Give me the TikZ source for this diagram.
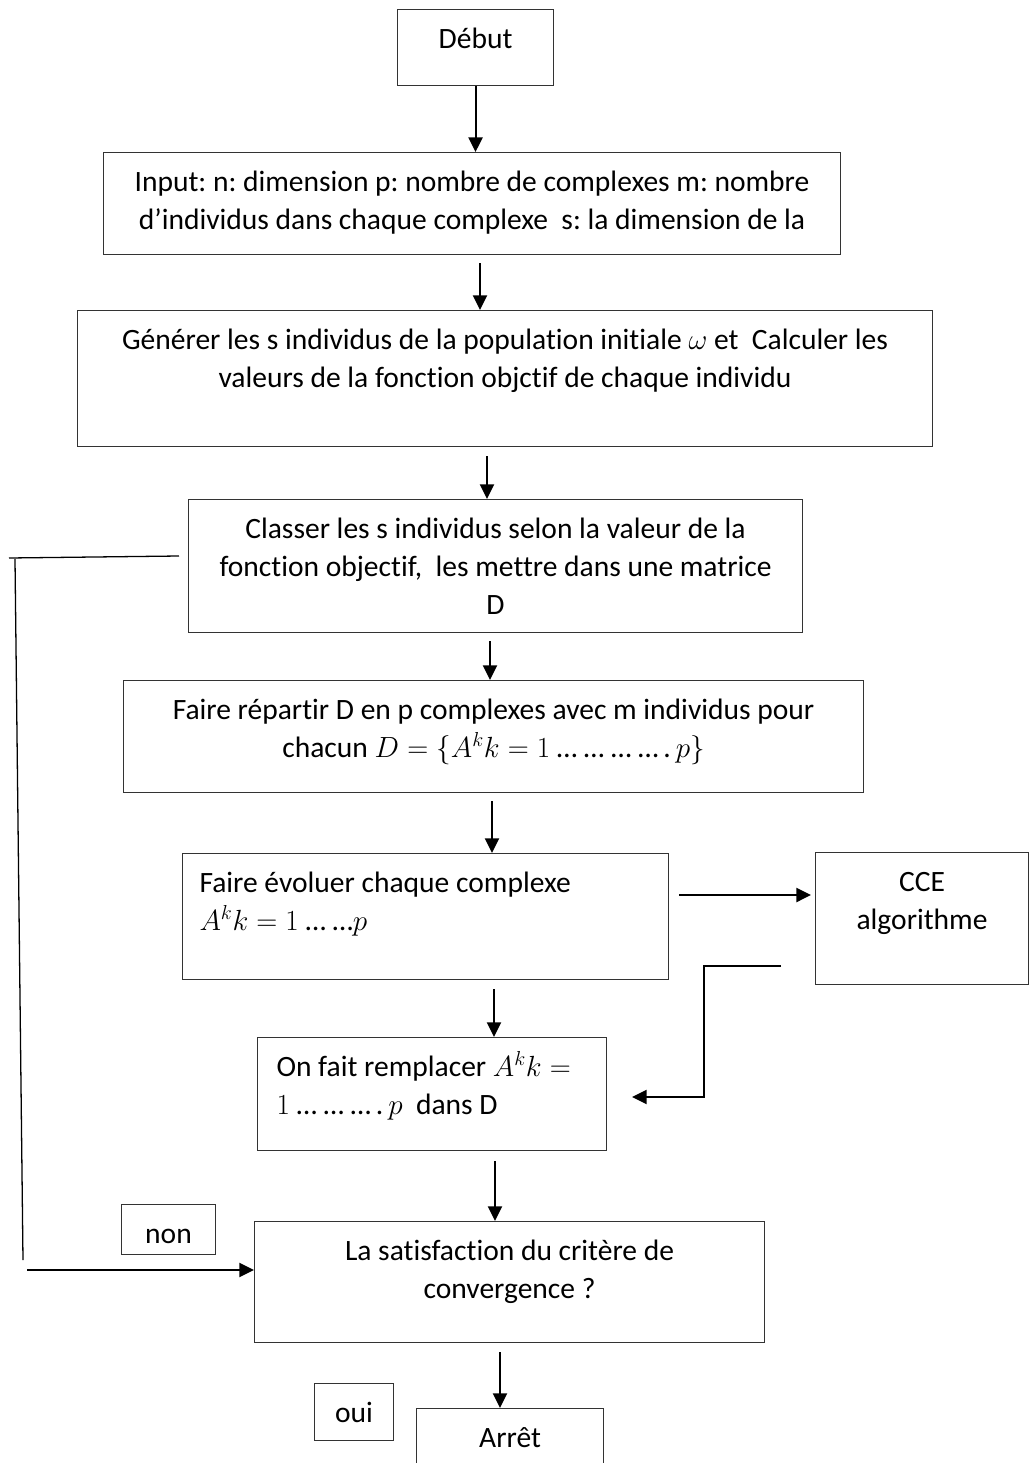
\documentclass[tikz,border=0pt]{standalone}
\usepackage{fontspec}
\setmainfont{Carlito}[Ligatures=NoCommon]
\usetikzlibrary{arrows.meta}
\newlength\pxu
\setlength\pxu{0.03cm}
\newcommand\boxcontent[4]{\parbox[t][#2\pxu][t]{#1\pxu}{\fontsize{25.2pt}{32.6pt}\selectfont\frenchspacing\vspace*{12\pxu}#3\strut #4\par}}
\tikzset{
  box/.style={draw=black!80, line width=0.9pt, inner sep=0pt, anchor=north west},
  arr/.style={line width=1.7pt, -{Triangle[length=12.5pt,width=12pt]}},
  thinline/.style={line width=1.1pt}
}
\begin{document}
\begin{tikzpicture}[x=0.03cm, y=-0.03cm]
\useasboundingbox (0,0) rectangle (1029,1463);
\fill[white] (0,0) rectangle (1029,1463);
% boxes
\node[box] (debut) at (397,9) {\boxcontent{156}{76}{\centering}{Début}};
\node[box] (input) at (103,152) {\boxcontent{737}{102}{\centering}{Input: n: dimension p: nombre de complexes m: nombre\\ d’individus dans chaque complexe\ \ s: la dimension de la}};
\node[box] (gen) at (77,310) {\boxcontent{855}{136}{\centering}{Générer les s individus de la population initiale $\omega$ et\ \ Calculer les\\ valeurs de la fonction objctif de chaque individu}};
\node[box] (classer) at (188,499) {\boxcontent{614}{133}{\centering}{Classer les s individus selon la valeur de la\\ fonction objectif,\ \ les mettre dans une matrice\\ D}};
\node[box] (repart) at (123,680) {\boxcontent{740}{112}{\centering}{Faire répartir D en p complexes avec m individus pour\\ chacun $D=\{A^k k=1$\ …\ …\ …\ …\,.\,$p\}$}};
\node[box] (evol) at (182,853) {\boxcontent{486}{126}{\raggedright\leftskip=17\pxu}{Faire évoluer chaque complexe\\ $A^k k=1$\ …\ …$p$}};
\node[box] (cce) at (815,852) {\boxcontent{213}{132}{\centering}{CCE\\ algorithme}};
\node[box] (rempl) at (257,1037) {\boxcontent{349}{113}{\raggedright\leftskip=19\pxu}{On fait remplacer $A^k k=$\\ $1$\ …\ …\ …\,.\,$p$\ \ dans D}};
\node[box] (sat) at (254,1221) {\boxcontent{510}{121}{\centering}{La satisfaction du critère de\\ convergence ?}};
\node[box] (non) at (121,1204) {\boxcontent{94}{50}{\centering}{non}};
\node[box] (oui) at (314,1383) {\boxcontent{79}{57}{\centering}{oui}};
\node[box] (arret) at (416,1408) {\boxcontent{187}{70}{\centering}{Arrêt}};
% helper coordinates
\coordinate (ax2) at (480,0);
\coordinate (ax3) at (487,0);
\coordinate (ax4) at (490,0);
\coordinate (ax5) at (492,0);
\coordinate (ax6) at (494,0);
\coordinate (ax7) at (495,0);
\coordinate (ax8) at (500,0);
\coordinate (ay1) at (0,895);
\coordinate (ay2) at (0,966);
\coordinate (bend) at (704,1097);
\coordinate (loopa) at (179,556);
\coordinate (loopb) at (9,558);
\coordinate (loopc) at (15,559);
\coordinate (loopd) at (23,1260);
\coordinate (loope) at (27,1270);
% main flow
\draw[arr] (debut.south) -- (debut.south |- input.north);
\draw[arr, shorten <=6.8pt] (input.south -| ax2) -- (gen.north -| ax2);
\draw[arr, shorten <=7.7pt] (gen.south -| ax3) -- (classer.north -| ax3);
\draw[arr, shorten <=6.8pt] (classer.south -| ax4) -- (repart.north -| ax4);
\draw[arr, shorten <=6.8pt] (repart.south -| ax5) -- (evol.north -| ax5);
\draw[arr, shorten <=7.7pt] (evol.south -| ax6) -- (rempl.north -| ax6);
\draw[arr, shorten <=8.5pt] (rempl.south -| ax7) -- (sat.north -| ax7);
\draw[arr, shorten <=7.7pt] (sat.south -| ax8) -- (arret.north -| ax8);
% CCE loop
\draw[arr, shorten <=8.5pt, shorten >=3.4pt] (evol.east |- ay1) -- (cce.west |- ay1);
\draw[arr, shorten <=29pt, shorten >=21.3pt] (cce.west |- ay2) -| (bend) -- (rempl.east |- bend);
% feedback loop
\draw[thinline] (loopa) -- (loopb);
\draw[thinline] (loopc) -- (loopd);
\draw[arr] (loope) -- (sat.west |- loope);
\end{tikzpicture}
\end{document}
